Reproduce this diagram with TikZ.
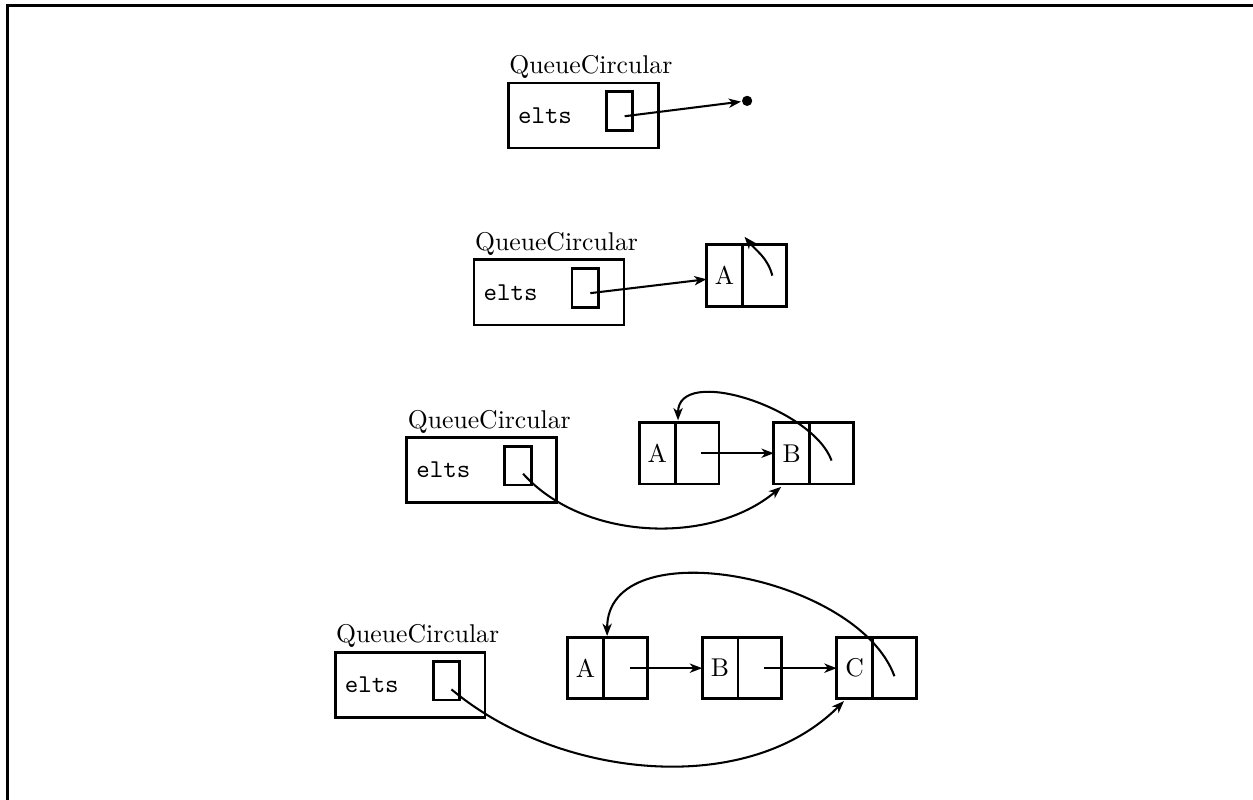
\documentclass[tikz,border=0pt]{standalone}
\usetikzlibrary{positioning,arrows.meta}

\tikzset{
	kasten/.style={draw,line width=1.1pt,minimum width=2.05cm,minimum height=0.89cm,outer sep=0pt},
	zeiger/.style={draw,line width=1.1pt,minimum width=0.36cm,minimum height=0.53cm,inner sep=0pt,outer sep=0pt},
	titel/.style={anchor=base west,inner sep=0pt},
	feld/.style={draw,line width=1.1pt,minimum width=0.49cm,minimum height=0.84cm,inner sep=0pt,outer sep=0pt},
}

\begin{document}
\begin{tikzpicture}[>={Stealth[length=4.8pt,width=3.6pt,inset=1.4pt]},thick]

\useasboundingbox (0,0) rectangle (17.14,10.94);
\clip (0,0) rectangle (17.14,10.94);
\draw[line width=1.2pt] (0.1,-1) |- (18,10.87);

\def\schlange#1#2{
	\node[kasten] (#1) at #2 {};
	\node[titel] (#1l) at ([yshift=0.13cm]#1.north west) {QueueCircular};
	\node[anchor=west,font=\ttfamily] (#1t) at (#1.west) {elts};
	\node[zeiger] (#1p) at ([xshift=-0.53cm,yshift=0.06cm]#1.east) {};
	\coordinate (#1s) at ([xshift=0.07cm,yshift=-0.07cm]#1p.center);
}

\def\zelle#1#2#3{
	\node[feld,#2] (#1) {#3};
	\node[feld,minimum width=0.6cm,right=0pt of #1] (#1n) {};
}

% leer
\schlange{q1}{(7.98,9.36)}
\node[fill,circle,inner sep=0pt,minimum size=0.14cm] (nil) at ([xshift=2.24cm,yshift=0.2cm]q1.center) {};
\draw[->] (q1s) -- (nil);

% ein Element
\schlange{q2}{(7.51,6.94)}
\zelle{a2}{at={([xshift=2.4cm,yshift=0.23cm]q2.center)}}{A}
\draw[->] (q2s) -- ([yshift=-0.05cm]a2.west);
\draw[->] ([xshift=0.11cm]a2n.center) to[out=105,in=-50] ([xshift=0.03cm,yshift=0.11cm]a2.north east);

% zwei Elemente
\schlange{q3}{(6.59,4.51)}
\zelle{a3}{at={([xshift=2.4cm,yshift=0.23cm]q3.center)}}{A}
\zelle{b3}{right=0.75cm of a3n}{B}
\draw[->] ([xshift=0.06cm]a3n.center) -- (b3.west);
\draw[->] ([yshift=-0.04cm]q3s) to[out=-48,in=-140,looseness=0.9] ([xshift=0.1cm,yshift=-0.04cm]b3.south west);
\draw[->] ([yshift=-0.1cm]b3n.center) to[out=110,in=90,looseness=0.9] ([xshift=0.04cm,yshift=0.03cm]a3.north east);

% drei Elemente
\schlange{q4}{(5.61,1.57)}
\zelle{a4}{at={([xshift=2.4cm,yshift=0.23cm]q4.center)}}{A}
\zelle{b4}{right=0.75cm of a4n}{B}
\zelle{c4}{right=0.75cm of b4n}{C}
\draw[->] ([xshift=0.06cm]a4n.center) -- (b4.west);
\draw[->] ([xshift=0.06cm]b4n.center) -- (c4.west);
\draw[->] ([yshift=-0.05cm]q4s) to[out=-40,in=-135,looseness=0.9] ([xshift=0.1cm,yshift=-0.03cm]c4.south west);
\draw[->] ([yshift=-0.11cm]c4n.center) to[out=110,in=90,looseness=0.95] ([xshift=0.05cm,yshift=0.02cm]a4.north east);

\end{tikzpicture}
\end{document}
